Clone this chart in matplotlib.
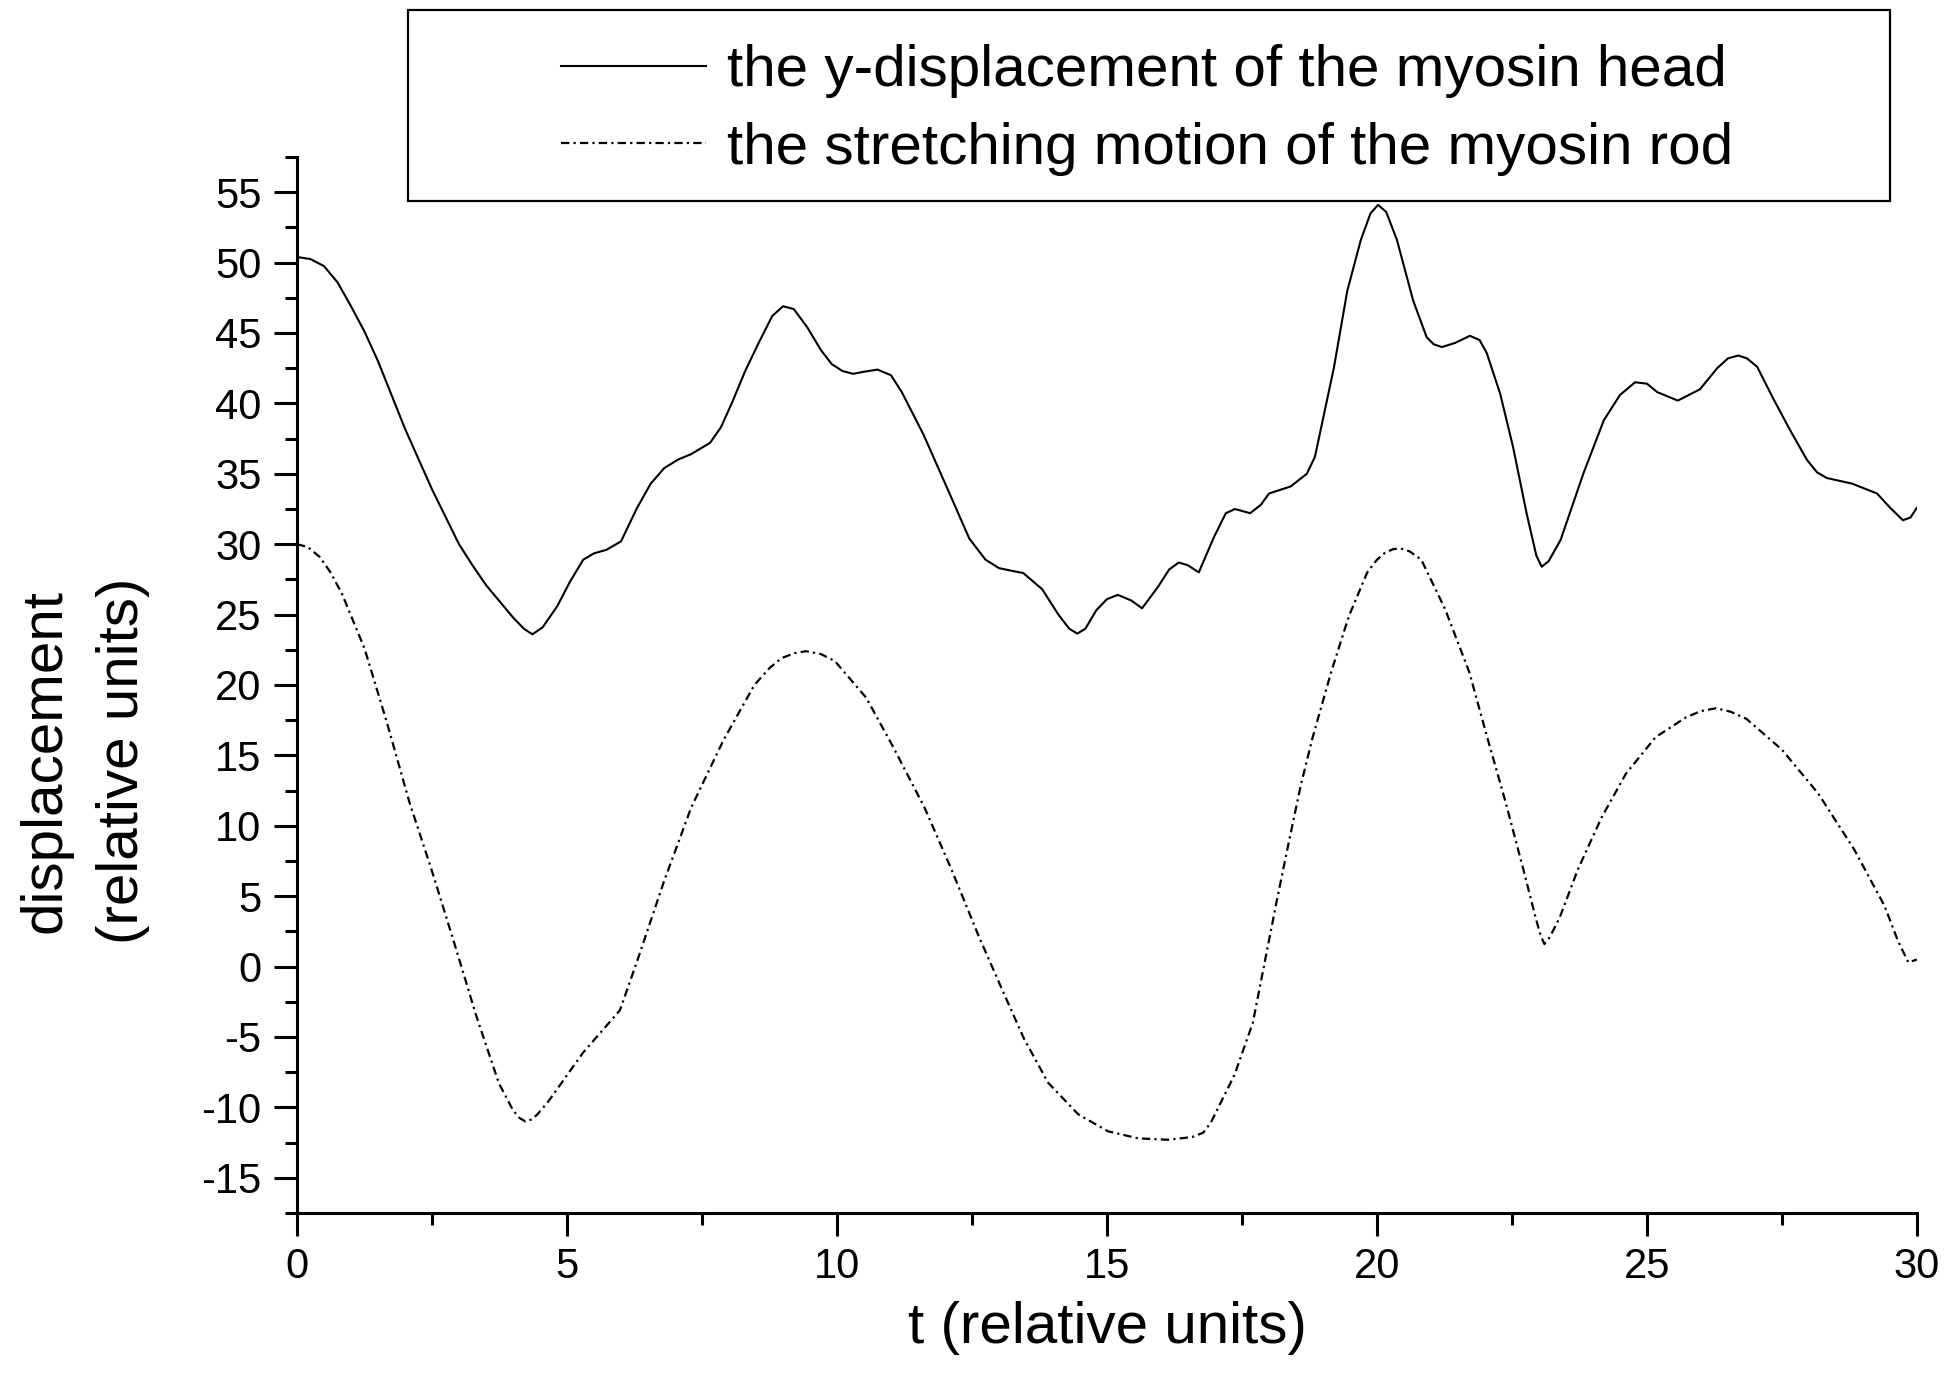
import matplotlib
matplotlib.use("Agg")
import matplotlib.pyplot as plt
from matplotlib.patches import Rectangle
from matplotlib.ticker import MultipleLocator

plt.rcParams['font.family'] = ['Liberation Sans', 'DejaVu Sans']
plt.rcParams['axes.unicode_minus'] = False
plt.rcParams['lines.scale_dashes'] = False

# y-displacement of the myosin head (solid)
head_t = [0, 0.25, 0.5, 0.75, 1.0, 1.25, 1.5, 2.0, 2.5, 3.0, 3.25, 3.5, 4.0, 4.2, 4.36, 4.55,
          4.82, 5.05, 5.3, 5.5, 5.73, 6.0, 6.3, 6.55, 6.8, 7.05, 7.3, 7.65, 7.85, 8.05, 8.3,
          8.55, 8.8, 9.0, 9.2, 9.45, 9.7, 9.9, 10.1, 10.3, 10.5, 10.75, 11.0, 11.2, 11.6,
          12.05, 12.45, 12.75, 13.0, 13.25, 13.45, 13.8, 14.1, 14.3, 14.45, 14.6, 14.8, 15.0,
          15.2, 15.45, 15.65, 15.95, 16.15, 16.33, 16.5, 16.7, 16.98, 17.2, 17.37, 17.65,
          17.85, 18.0, 18.4, 18.7, 18.85, 18.95, 19.2, 19.45, 19.7, 19.88, 20.02, 20.17,
          20.37, 20.67, 20.92, 21.05, 21.2, 21.45, 21.72, 21.9, 22.03, 22.28, 22.52, 22.77,
          22.95, 23.05, 23.18, 23.4, 23.82, 24.2, 24.5, 24.78, 25.0, 25.19, 25.57, 25.98,
          26.3, 26.5, 26.69, 26.85, 27.04, 27.33, 27.65, 27.96, 28.15, 28.33, 28.8, 29.26,
          29.5, 29.74, 29.88, 30.0]
head_v = [50.4, 50.25, 49.75, 48.6, 46.9, 45.1, 43.0, 38.2, 33.9, 30.0, 28.5, 27.1, 24.8, 24.0,
          23.6, 24.1, 25.6, 27.3, 28.9, 29.35, 29.6, 30.2, 32.6, 34.3, 35.4, 36.0, 36.4, 37.2,
          38.3, 40.0, 42.3, 44.3, 46.2, 46.9, 46.7, 45.4, 43.8, 42.8, 42.3, 42.1, 42.25,
          42.4, 42.0, 40.8, 37.8, 33.9, 30.4, 28.9, 28.3, 28.1, 27.95, 26.8, 25.0, 24.0, 23.65,
          24.0, 25.3, 26.1, 26.4, 26.0, 25.45, 27.0, 28.2, 28.7, 28.5, 28.0, 30.5, 32.2,
          32.5, 32.2, 32.8, 33.6, 34.1, 35.0, 36.2, 38.0, 42.5, 48.0, 51.6, 53.5, 54.1,
          53.6, 51.6, 47.3, 44.7, 44.2, 44.0, 44.3, 44.8, 44.5, 43.6, 40.7, 36.9, 32.2,
          29.2, 28.4, 28.8, 30.3, 35.0, 38.8, 40.6, 41.5, 41.4, 40.8, 40.2, 41.0, 42.5,
          43.2, 43.4, 43.2, 42.6, 40.4, 38.1, 36.0, 35.1, 34.7, 34.3, 33.6, 32.6, 31.7,
          31.9, 32.6]

# stretching motion of the myosin rod (dash-dot)
rod_t = [0, 0.2, 0.42, 0.62, 0.83, 1.25, 1.66, 2.08, 2.49, 2.91, 3.32, 3.74, 4.0, 4.12, 4.23,
         4.35, 4.45, 4.65, 5.3, 5.98, 6.3, 6.8, 7.3, 7.9, 8.47, 8.75, 8.97, 9.2, 9.42, 9.7,
         9.96, 10.54, 11.04, 11.62, 12.12, 12.62, 13.02, 13.46, 13.91, 14.47, 15.02, 15.58,
         16.14, 16.58, 16.78, 16.92, 17.36, 17.7, 17.92, 18.14, 18.37, 18.59, 18.81, 19.15,
         19.48, 19.82, 20.0, 20.15, 20.3, 20.43, 20.6, 20.82, 21.26, 21.71, 22.04, 22.38,
         22.71, 22.94, 23.03, 23.1, 23.2, 23.38, 23.72, 24.16, 24.61, 25.16, 25.72, 26.0,
         26.28, 26.55, 26.84, 27.5, 28.17, 28.84, 29.4, 29.65, 29.84, 30.0]
rod_v = [30.0, 29.8, 29.1, 28.0, 26.5, 22.6, 17.4, 11.7, 6.9, 1.7, -3.5, -8.3, -10.2, -10.75,
         -11.0, -10.85, -10.5, -9.6, -6.1, -3.1, 0.4, 6.1, 11.3, 16.1, 20.0, 21.2, 21.9,
         22.25, 22.4, 22.2, 21.7, 19.1, 15.6, 11.3, 6.9, 2.2, -1.3, -5.1, -8.25, -10.5,
         -11.7, -12.2, -12.3, -12.1, -11.8, -11.1, -7.7, -4.0, 0.3, 4.6, 8.9, 12.9, 16.3,
         20.9, 24.9, 28.0, 28.9, 29.4, 29.65, 29.7, 29.5, 28.9, 25.4, 20.9, 16.3, 11.7,
         6.9, 3.45, 2.2, 1.6, 2.1, 3.45, 6.9, 10.6, 13.7, 16.3, 17.7, 18.15, 18.35, 18.1,
         17.6, 15.4, 12.3, 8.3, 4.3, 1.8, 0.3, 0.5]

labels = ["the y-displacement of the myosin head", "the stretching motion of the myosin rod"]

W, H = 1949, 1390
fig = plt.figure(figsize=(W / 100, H / 100), dpi=100)
ax = fig.add_axes([297 / W, 1 - 1213 / H, 1620 / W, 1056 / H])

l1, = ax.plot(head_t, head_v, color='black', lw=1.5, solid_joinstyle='round')
l2, = ax.plot(rod_t, rod_v, color='black', lw=1.6, linestyle=(0, (6, 3, 1.6, 3)))

ax.set_xlim(0, 30)
ax.set_ylim(-17.5, 57.5)
ax.xaxis.set_major_locator(MultipleLocator(5))
ax.xaxis.set_minor_locator(MultipleLocator(2.5))
ax.yaxis.set_major_locator(MultipleLocator(5))
ax.yaxis.set_minor_locator(MultipleLocator(2.5))

for s in ['top', 'right']:
    ax.spines[s].set_visible(False)
for s in ['left', 'bottom']:
    ax.spines[s].set_linewidth(2.2)

ax.tick_params(which='major', direction='out', length=16.5, width=2.2, labelsize=30)
ax.tick_params(which='minor', direction='out', length=8.5, width=2.2)
ax.tick_params(axis='y', which='major', pad=9)
ax.tick_params(axis='x', which='major', pad=8)

fig.text(84 / W, 1 - 761 / H, "displacement\n(relative units)", rotation=90,
         ha='center', va='center', fontsize=42, linespacing=1.55)
fig.text(1107 / W, 1 - 1328 / H, "t (relative units)", ha='center', va='center', fontsize=42)

# legend box
fig.add_artist(Rectangle((408 / W, 1 - 201 / H), 1482 / W, 191 / H, transform=fig.transFigure,
                         facecolor='white', edgecolor='black', lw=1.6, zorder=5))
leg = fig.legend([l1, l2], labels, loc='center', bbox_to_anchor=(1147 / W, 1 - 110 / H),
                 frameon=False, fontsize=42, handlelength=2.5, handletextpad=0.36,
                 labelspacing=0.4, borderpad=0)
leg.set_zorder(6)

fig.savefig("out.png", dpi=100)
